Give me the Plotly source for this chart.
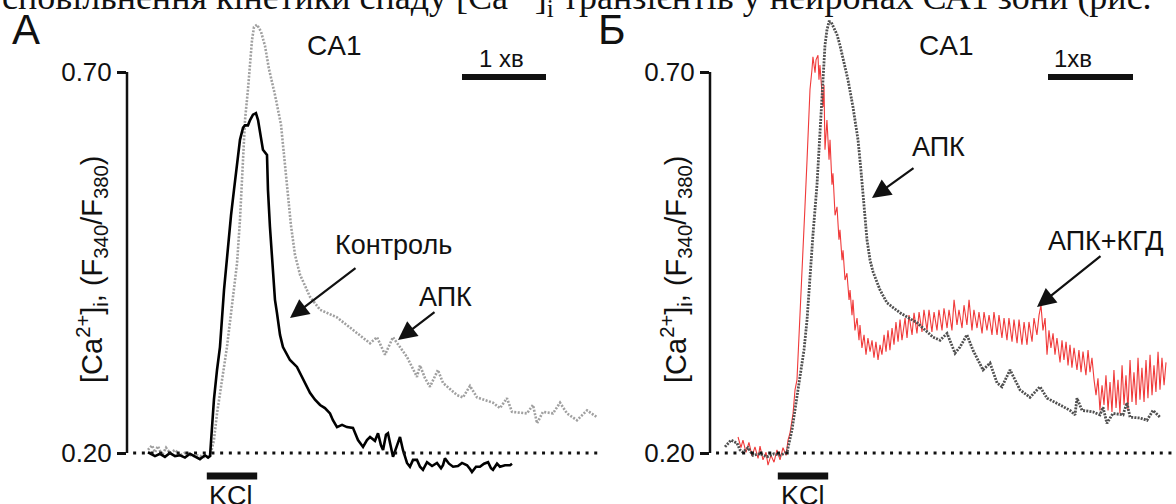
import plotly.graph_objects as go

W, H = 1176, 504

# ---------------- data (time in s, ratio F340/F380) ----------------
# Panel A: control (black)
CTRL_T = [0.0, 5.0, 8.6, 12.1, 15.7, 19.3, 22.9, 26.4, 30.0, 33.6, 37.1, 40.7, 42.9, 44.3,
          47.1, 49.3, 51.4, 54.3, 57.1, 59.3, 61.4, 63.6, 65.7, 67.9, 69.3, 71.4, 72.9, 75.0,
          77.1, 78.6, 80.7, 82.1, 85.0, 85.7, 87.1, 88.6, 90.7, 92.1, 94.3, 96.4, 101.4, 106.4,
          110.7, 115.7, 119.3, 122.9, 126.4, 130.0, 132.1, 135.0, 138.6, 142.1, 146.4, 150.0,
          153.6, 156.4, 158.6, 162.1, 164.3, 166.4, 167.9, 170.0, 171.4, 173.6, 175.0, 177.9,
          180.0, 182.1, 185.0, 187.1, 189.3, 192.1, 194.3, 196.4, 199.3, 202.9, 206.4, 209.3,
          210.7, 212.1, 215.0, 217.9, 221.4, 224.3, 227.9, 230.0, 231.4, 234.3, 237.1, 240.0,
          242.9, 245.0, 246.4, 249.3, 251.4, 255.0, 258.6, 260.0]
CTRL_V = [0.201, 0.196, 0.199, 0.195, 0.200, 0.196, 0.197, 0.194, 0.199, 0.195, 0.192, 0.197, 0.194, 0.196,
          0.270, 0.309, 0.339, 0.414, 0.473, 0.512, 0.545, 0.578, 0.611, 0.627, 0.630, 0.630, 0.637, 0.644,
          0.646, 0.637, 0.611, 0.598, 0.591, 0.545, 0.497, 0.451, 0.401, 0.384, 0.355, 0.339, 0.322, 0.313,
          0.298, 0.279, 0.270, 0.263, 0.259, 0.252, 0.243, 0.234, 0.237, 0.234, 0.233, 0.217,
          0.208, 0.217, 0.221, 0.216, 0.226, 0.210, 0.204, 0.224, 0.226, 0.204, 0.195, 0.210,
          0.221, 0.204, 0.187, 0.182, 0.191, 0.191, 0.182, 0.178, 0.188, 0.183, 0.187, 0.180,
          0.184, 0.193, 0.186, 0.182, 0.183, 0.187, 0.184, 0.179, 0.175, 0.182, 0.182, 0.186,
          0.188, 0.180, 0.178, 0.186, 0.182, 0.184, 0.184, 0.186]

# Panel A: APK (grey dotted)
APK_A_T = [0.0, 2.9, 5.0, 7.1, 10.0, 12.9, 15.7, 19.3, 22.9, 27.1, 31.4, 35.7, 40.0, 44.3, 47.1,
           49.3, 52.9, 56.4, 60.0, 63.6, 65.7, 67.1, 69.3, 71.4, 72.9, 74.3, 75.7, 77.9, 80.7,
           83.6, 86.4, 90.7, 95.0, 97.9, 100.0, 102.1, 105.0, 108.6, 115.7, 122.9, 135.0, 149.3,
           158.6, 163.6, 169.3, 175.0, 180.0, 185.0, 192.1, 194.3, 197.9, 201.4, 207.1, 210.7,
           220.7, 225.0, 230.0, 235.0, 246.4, 251.4, 256.4, 260.0, 270.7, 275.0, 277.9, 282.1,
           289.3, 294.3, 299.3, 306.4, 313.6, 320.7]
APK_A_V = [0.204, 0.210, 0.201, 0.209, 0.197, 0.207, 0.200, 0.204, 0.197, 0.201, 0.196, 0.197, 0.195, 0.195, 0.217,
           0.252, 0.296, 0.339, 0.394, 0.449, 0.506, 0.558, 0.637, 0.677, 0.716, 0.742, 0.759, 0.762, 0.753,
           0.734, 0.704, 0.670, 0.631, 0.578, 0.545, 0.499, 0.460, 0.434, 0.405, 0.388, 0.378, 0.357,
           0.344, 0.352, 0.329, 0.352, 0.339, 0.326, 0.300, 0.315, 0.298, 0.287, 0.309, 0.292,
           0.276, 0.273, 0.288, 0.273, 0.266, 0.259, 0.272, 0.254, 0.252, 0.263, 0.239, 0.254,
           0.252, 0.266, 0.252, 0.243, 0.256, 0.247]

# Panel B: APK (dark grey dotted)
APK_B_T = [4.3, 8.6, 12.9, 15.0, 17.1, 20.7, 24.3, 29.3, 34.3, 39.3, 43.6, 48.6, 52.1, 55.7, 57.9,
           60.7, 62.9, 65.0, 67.1, 70.0, 72.1, 73.6, 75.0, 75.7, 77.1, 78.6, 80.0, 82.1, 84.3, 86.4,
           89.3, 92.1, 95.7, 99.3, 101.4, 102.9, 104.3, 105.7, 107.9, 110.0, 115.0, 120.0, 129.3,
           141.4, 152.9, 157.9, 162.9, 168.6, 172.1, 177.1, 181.4, 188.6, 193.6, 198.6, 202.1,
           207.9, 215.0, 222.1, 229.3, 234.3, 243.6, 250.7, 254.3, 255.7, 259.3, 267.1, 272.1,
           274.3, 277.1, 281.4, 288.6, 291.4, 293.6, 300.7, 305.7, 310.0, 315.0]
APK_B_V = [0.208, 0.217, 0.213, 0.204, 0.201, 0.207, 0.197, 0.199, 0.195, 0.199, 0.197, 0.201, 0.230, 0.273, 0.296,
           0.335, 0.375, 0.434, 0.486, 0.552, 0.624, 0.664, 0.709, 0.735, 0.755, 0.766, 0.766, 0.758, 0.749, 0.735,
           0.713, 0.690, 0.654, 0.611, 0.571, 0.539, 0.506, 0.480, 0.453, 0.438, 0.414, 0.397, 0.384,
           0.371, 0.352, 0.348, 0.357, 0.331, 0.339, 0.355, 0.335, 0.309, 0.318, 0.292, 0.287,
           0.309, 0.283, 0.273, 0.287, 0.272, 0.263, 0.256, 0.250, 0.272, 0.256, 0.254, 0.250,
           0.260, 0.239, 0.252, 0.250, 0.266, 0.247, 0.246, 0.243, 0.256, 0.247]

# Panel B: APK + KGD (red, noisy)
KGD_T = [13.6, 15.7, 17.1, 19.3, 21.4, 23.6, 25.7, 27.9, 29.3, 31.4, 33.6, 35.0, 37.1, 39.3, 41.4,
         43.6, 45.7, 47.9, 49.3, 50.7, 52.9, 54.3, 55.7, 57.1, 57.9, 59.3, 60.0, 61.4, 62.9, 64.3,
         65.0, 66.4, 67.1, 68.6, 69.3, 70.7, 71.4, 72.1, 73.6, 74.3, 75.0, 75.7, 77.1, 78.6, 79.3,
         80.7, 81.4, 82.9, 84.3, 85.7, 86.4, 87.9, 88.6, 90.0, 91.4, 92.9, 93.6, 95.0, 95.7, 97.1,
         98.6, 100.0, 100.7, 102.1, 103.6, 105.0, 106.4, 107.9, 109.3, 110.7, 112.1, 113.6, 115.0,
         116.4, 117.9, 119.3, 120.7, 122.1, 123.6, 125.0, 126.4, 127.9, 129.3, 130.7, 132.9, 134.3,
         135.7, 137.9, 139.3, 141.4, 142.9, 145.0, 146.4, 148.6, 150.0, 152.1, 153.6, 155.7, 157.1,
         159.3, 160.7, 162.9, 164.3, 166.4, 167.9, 170.0, 171.4, 173.6, 175.0, 177.1, 178.6, 180.7,
         182.1, 184.3, 185.7, 187.9, 189.3, 191.4, 192.9, 195.0, 196.4, 198.6, 200.0, 202.1, 203.6,
         205.7, 207.1, 209.3, 210.7, 212.9, 214.3, 216.4, 217.9, 220.0, 221.4, 223.6, 225.0, 227.1,
         228.6, 230.0, 231.4, 232.9, 234.3, 235.7, 237.1, 238.6, 240.0, 241.4, 243.6, 245.0, 246.4,
         247.9, 249.3, 250.7, 252.1, 253.6, 255.7, 257.1, 258.6, 260.0, 262.1, 263.6, 265.0, 266.4,
         267.9, 269.3, 270.7, 272.1, 273.6, 275.0, 276.4, 277.9, 279.3, 280.7, 282.1, 283.6, 285.0,
         286.4, 287.9, 289.3, 290.7, 292.1, 293.6, 295.0, 296.4, 297.9, 299.3, 300.7, 302.1, 303.6,
         305.0, 306.4, 307.9, 309.3, 310.7, 312.1, 313.6, 315.0, 316.4, 317.9, 319.3]
KGD_V = [0.221, 0.207, 0.217, 0.201, 0.214, 0.196, 0.208, 0.193, 0.209, 0.191, 0.201, 0.184, 0.197, 0.188, 0.204,
         0.191, 0.207, 0.197, 0.217, 0.226, 0.252, 0.283, 0.296, 0.348, 0.384, 0.427, 0.470, 0.523, 0.585, 0.651,
         0.677, 0.703, 0.720, 0.699, 0.716, 0.722, 0.690, 0.709, 0.664, 0.654, 0.683, 0.598, 0.637, 0.585, 0.611,
         0.552, 0.567, 0.512, 0.523, 0.480, 0.493, 0.453, 0.466, 0.427, 0.436, 0.401, 0.414, 0.381, 0.401, 0.361,
         0.377, 0.348, 0.368, 0.338, 0.355, 0.329, 0.351, 0.333, 0.348, 0.325, 0.346, 0.322, 0.342,
         0.329, 0.355, 0.333, 0.361, 0.335, 0.364, 0.342, 0.372, 0.346, 0.375, 0.348, 0.377, 0.351,
         0.381, 0.355, 0.384, 0.357, 0.385, 0.359, 0.388, 0.361, 0.388, 0.359, 0.385, 0.361, 0.388,
         0.361, 0.390, 0.364, 0.388, 0.361, 0.401, 0.368, 0.388, 0.364, 0.394, 0.368, 0.401, 0.361,
         0.388, 0.364, 0.385, 0.357, 0.385, 0.361, 0.381, 0.355, 0.385, 0.355, 0.381, 0.351, 0.377,
         0.348, 0.377, 0.346, 0.375, 0.344, 0.375, 0.342, 0.372, 0.342, 0.372, 0.346, 0.377, 0.355,
         0.381, 0.394, 0.361, 0.377, 0.329, 0.361, 0.338, 0.357, 0.329, 0.351, 0.319, 0.348, 0.322,
         0.346, 0.315, 0.342, 0.312, 0.338, 0.309, 0.335, 0.306, 0.333, 0.302, 0.335, 0.306, 0.325,
         0.296, 0.276, 0.298, 0.256, 0.289, 0.263, 0.302, 0.256, 0.293, 0.254, 0.309, 0.259, 0.296,
         0.252, 0.315, 0.263, 0.302, 0.256, 0.322, 0.267, 0.306, 0.263, 0.325, 0.270, 0.312, 0.267,
         0.322, 0.272, 0.329, 0.276, 0.315, 0.280, 0.333, 0.283, 0.325, 0.289, 0.319]

KCL_ON, KCL_OFF = 42.0, 78.0
Y_TICKS = [0.20, 0.70]
Y_TICK_TEXT = ["0.20", "0.70"]
BASELINE = 0.20

# ---------------- figure ----------------
FONT = "Liberation Sans, Arial, sans-serif"
fig = go.Figure()

fig.add_trace(go.Scatter(x=APK_A_T, y=APK_A_V, mode="lines", xaxis="x", yaxis="y",
                         line=dict(color="#a0a0a0", width=2.6, dash="2px,1.5px"), showlegend=False))
fig.add_trace(go.Scatter(x=CTRL_T, y=CTRL_V, mode="lines", xaxis="x", yaxis="y",
                         line=dict(color="#000000", width=2.6), showlegend=False))
fig.add_trace(go.Scatter(x=KGD_T, y=KGD_V, mode="lines", xaxis="x2", yaxis="y2",
                         line=dict(color="#f03a3a", width=1.1), showlegend=False))
fig.add_trace(go.Scatter(x=APK_B_T, y=APK_B_V, mode="lines", xaxis="x2", yaxis="y2",
                         line=dict(color="#505050", width=2.8, dash="2px,1.2px"), showlegend=False))

yrange = [0.1331, 0.7945]
yax = dict(range=yrange, domain=[0, 1], tickvals=Y_TICKS, ticktext=Y_TICK_TEXT,
           ticks="outside", ticklen=9, tickwidth=2.5, tickcolor="#111",
           showline=False, showgrid=False, zeroline=False,
           tickfont=dict(family=FONT, size=26, color="#111"))

fig.update_layout(
    width=W, height=H, margin=dict(l=0, r=0, t=0, b=0),
    paper_bgcolor="white", plot_bgcolor="white",
    xaxis=dict(domain=[127 / W, 600 / W], range=[-15.0, 322.86], visible=False, anchor="y"),
    xaxis2=dict(domain=[710 / W, 1.0], range=[-6.43, 326.43], visible=False, anchor="y2"),
    yaxis=dict(anchor="x", **yax),
    yaxis2=dict(anchor="x2", **yax),
)

def px(x):
    return x / W

def py(y):
    return 1 - y / H

shapes = []
for xr, yr, x0 in (("x", "y", 0.013), ("x2", "y2", 0.013)):
    shapes.append(dict(type="line", xref=f"{xr} domain", yref=yr, x0=0, x1=0, y0=0.2, y1=0.7,
                       line=dict(color="#111", width=2.5)))
    shapes.append(dict(type="line", xref=f"{xr} domain", yref=yr, x0=x0, x1=1, y0=BASELINE, y1=BASELINE,
                       line=dict(color="#111", width=3, dash="3px,5.7px")))
    shapes.append(dict(type="line", xref=xr, yref="paper", x0=KCL_ON, x1=KCL_OFF,
                       y0=py(476), y1=py(476), line=dict(color="#111", width=7)))
shapes.append(dict(type="line", xref="paper", yref="paper", x0=px(462), x1=px(546), y0=py(77), y1=py(77),
                   line=dict(color="#111", width=6)))
shapes.append(dict(type="line", xref="paper", yref="paper", x0=px(1048), x1=px(1133), y0=py(77), y1=py(77),
                   line=dict(color="#111", width=6)))
fig.update_layout(shapes=shapes)

def txt(t, x, y, size, **kw):
    d = dict(text=t, x=px(x), y=py(y), xref="paper", yref="paper", showarrow=False,
             font=dict(family=FONT, size=size, color="#111"), xanchor="center", yanchor="middle")
    d.update(kw)
    return d

def arrow(x_tip, y_tip, x_tail, y_tail):
    return dict(text="", x=px(x_tip), y=py(y_tip), xref="paper", yref="paper", showarrow=True,
                ax=x_tail - x_tip, ay=y_tail - y_tip, arrowhead=2, arrowsize=1.7, arrowwidth=2.2,
                arrowcolor="#111", standoff=0)

ylab = "[Ca<sup>2+</sup>]<sub>i</sub>, (F<sub>340</sub>/F<sub>380</sub>)"
ann = [
    dict(text="сповільнення кінетики спаду [Ca<sup>2+</sup>]<sub>i</sub> транзієнтів у нейронах СА1 зони (рис.",
         x=0, y=py(24), xref="paper", yref="paper", showarrow=False, xanchor="left", yanchor="bottom",
         font=dict(family="Liberation Serif, Times New Roman, serif", size=36, color="#111")),
    txt("А", 26, 29, 42),
    txt("Б", 612, 29, 42),
    txt("CA1", 334, 45, 28),
    txt("CA1", 946, 45, 28),
    txt("1 хв", 502, 58, 24),
    txt("1хв", 1073, 58, 24),
    txt(ylab, 92, 270, 29, textangle=-90),
    txt(ylab, 676, 270, 29, textangle=-90),
    txt("KCl", 231, 496, 27),
    txt("KCl", 803, 496, 27),
    txt("Контроль", 393, 245, 27),
    txt("АПК", 445, 297, 27),
    txt("АПК", 938, 147, 27),
    txt("АПК+КГД", 1105, 241, 27),
    arrow(290, 318, 357, 267),
    arrow(398, 340, 436, 311),
    arrow(872, 198, 915, 167),
    arrow(1037, 307, 1102, 255),
]
fig.update_layout(annotations=ann)

fig.write_html("out.html", config={"displayModeBar": False},
               post_script="document.body.style.margin='0px';")
